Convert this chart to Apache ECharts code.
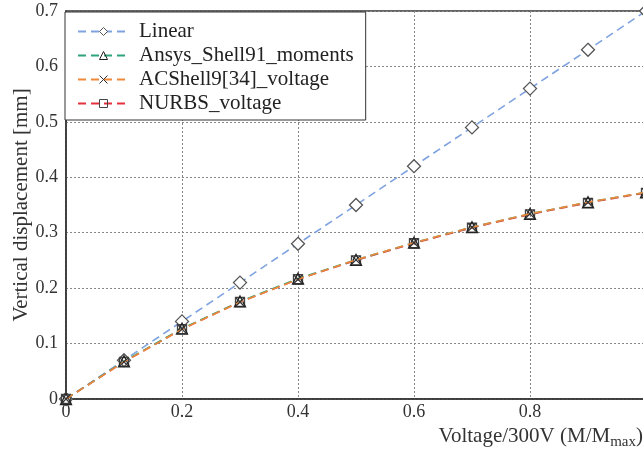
<!DOCTYPE html>
<html><head><meta charset="utf-8">
<script src="https://cdn.jsdelivr.net/npm/echarts@6.0.0/dist/echarts.min.js"></script>
<style>html,body{margin:0;padding:0;background:#fff}#c{width:643px;height:454px}</style>
</head><body><div id="c"></div>
<script>
const xValues = [0, 0.1, 0.2, 0.3, 0.4, 0.5, 0.6, 0.7, 0.8, 0.9, 1.0];
const linearY = [0, 0.07, 0.14, 0.21, 0.28, 0.35, 0.42, 0.49, 0.56, 0.63, 0.70];
const ansysY = [0, 0.068, 0.127, 0.176, 0.217, 0.251, 0.282, 0.310, 0.334, 0.355, 0.373];
const acshellY = [0, 0.067, 0.126, 0.175, 0.216, 0.251, 0.282, 0.310, 0.334, 0.355, 0.373];
const nurbsY = [0, 0.067, 0.126, 0.175, 0.216, 0.250, 0.281, 0.309, 0.333, 0.354, 0.372];
const seriesNames = ['Linear', 'Ansys_Shell91_moments', 'ACShell9[34]_voltage', 'NURBS_voltage'];
const yTicks = [0, 0.1, 0.2, 0.3, 0.4, 0.5, 0.6, 0.7];
const xTicks = [0, 0.2, 0.4, 0.6, 0.8, 1.0];

const pairs = ys => xValues.map((x, i) => [x, ys[i]]);
const FONT = '"Liberation Serif", "Times New Roman", serif';

function mk(name, ys, color, symbol, size, fill, border, z) {
  return {
    name, type: 'line', data: pairs(ys), symbol, symbolSize: size, z,
    lineStyle: { color, width: 1.6, type: [8, 5] },
    itemStyle: { color: fill, borderColor: border, borderWidth: 1.3 },
    emphasis: { disabled: true }, animation: false
  };
}

const chart = echarts.init(document.getElementById('c'));
chart.setOption({
  backgroundColor: '#fff',
  animation: false,
  grid: { left: 66, right: -3, top: 11, bottom: 55, show: true, borderColor: '#333', borderWidth: 1.5,
          backgroundColor: 'transparent', containLabel: false, outerBoundsMode: 'none' },
  legend: {
    orient: 'vertical', left: 65, top: 12,
    data: seriesNames,
    itemWidth: 51, itemHeight: 10, itemGap: 3,
    padding: [9, 12, 6, 12],
    backgroundColor: '#fff', borderColor: '#333', borderWidth: 1,
    itemStyle: { borderWidth: 1 },
    textStyle: { fontFamily: FONT, fontSize: 21, color: '#222', padding: [0, 0, 0, 5] }
  },
  xAxis: {
    type: 'value', min: 0, max: 1, interval: 0.2,
    axisLine: { show: true, lineStyle: { color: '#333', width: 1.5 } },
    axisTick: { show: false },
    axisLabel: { fontFamily: FONT, fontSize: 18, color: '#333', margin: 4, showMaxLabel: false,
      customValues: xTicks },
    splitLine: { show: true, lineStyle: { color: '#888', type: [2, 2], width: 1 } },
    name: '{a|Voltage/300V (M/M}{b|max}{a|)}',
    nameLocation: 'end', nameGap: -3, nameMoveOverlap: false,
    nameTextStyle: { align: 'right', verticalAlign: 'top', padding: [24, 0, 0, 0],
      rich: { a: { fontFamily: FONT, fontSize: 21, color: '#333' },
              b: { fontFamily: FONT, fontSize: 15, color: '#333', padding: [12, 0, 0, 0] } } }
  },
  yAxis: {
    type: 'value', min: 0, max: 0.7, interval: 0.1,
    axisLine: { show: true, lineStyle: { color: '#333', width: 1.5 } },
    axisTick: { show: false },
    axisLabel: { fontFamily: FONT, fontSize: 18, color: '#333', margin: 8, customValues: yTicks },
    splitLine: { show: true, lineStyle: { color: '#888', type: [2, 2], width: 1 } },
    name: 'Vertical displacement [mm]', nameLocation: 'middle', nameGap: 34, nameMoveOverlap: false,
    nameTextStyle: { fontFamily: FONT, fontSize: 21, color: '#333' }
  },
  series: [
    mk(seriesNames[0], linearY, '#7fa3e0', 'diamond', 13, '#fff', '#555', 2),
    mk(seriesNames[1], ansysY, '#2fa37c', 'triangle', 11, 'rgba(0,0,0,0)', '#222', 4),
    mk(seriesNames[2], acshellY, '#f0883a', 'path://M0,0L10,10M10,0L0,10', 8, 'rgba(0,0,0,0)', '#333', 5),
    mk(seriesNames[3], nurbsY, '#e5313d', 'rect', 9, 'rgba(0,0,0,0)', '#444', 3)
  ]
});
</script></body></html>
